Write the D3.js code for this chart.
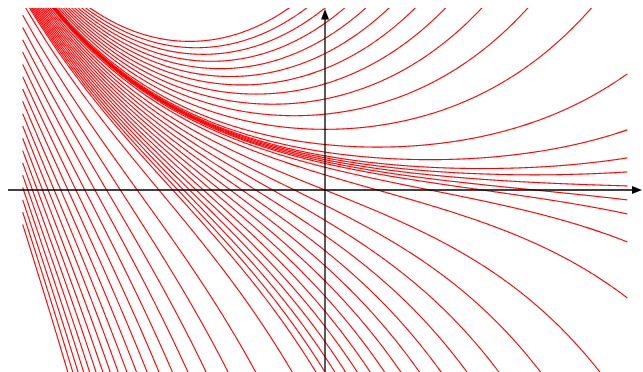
<!DOCTYPE html>
<html>
<head>
<meta charset="utf-8">
<script src="https://cdn.jsdelivr.net/npm/d3@7"></script>
<style>
  html, body { margin: 0; padding: 0; background: #ffffff; }
  svg { display: block; }
</style>
</head>
<body>
<svg id="chart" width="643" height="372"></svg>
<script>
// Solution curves of y' = y - e^{-x}:  y = e^{-x}/2 + C e^{x}
const xDomain = [-2, 2];
const yDomain = [-3, 3];
// constants C
const cUpper = [0.25, 0.5, 0.75, 1, 1.25, 1.5, 1.75, 2, 2.25, 2.5, 2.75, 3];
const cBand = [0, 0.03125, -0.03125, 0.0625, -0.0625, 0.125, -0.125];
const cLower = [-0.25, -0.5, -0.75, -1, -1.25, -1.5, -1.75, -2, -2.25, -2.5, -2.75, -3, -3.25, -3.5, -3.75];
const cSteep = [-4.5, -6, -7.5, -9, -10.5, -12, -13.5, -15, -16.5, -18, -19.5, -21, -22.5, -24, -25.5, -27, -28.5, -30, -31.5];

const svg = d3.select("#chart");
const x = d3.scaleLinear().domain(xDomain).range([22.7, 627.3]);
const y = d3.scaleLinear().domain(yDomain).range([372, 8]);

svg.append("defs").append("clipPath").attr("id", "plotClip")
  .append("rect")
  .attr("x", x(xDomain[0]) - 1).attr("y", y(yDomain[1]))
  .attr("width", x(xDomain[1]) - x(xDomain[0]) + 2)
  .attr("height", y(yDomain[0]) - y(yDomain[1]));

const samples = d3.range(0, 801).map(i => xDomain[0] + (xDomain[1] - xDomain[0]) * i / 800);
const solution = c => samples.map(t => [t, Math.exp(-t) / 2 + c * Math.exp(t)]);

const line = d3.line()
  .defined(d => Math.abs(d[1]) < 30)
  .x(d => x(d[0]))
  .y(d => y(d[1]));

const allC = [].concat(cUpper, cBand, cLower, cSteep);
svg.append("g").attr("clip-path", "url(#plotClip)")
  .selectAll("path").data(allC).join("path")
  .attr("d", c => line(solution(c)))
  .attr("fill", "none")
  .attr("stroke", "#ff0000")
  .attr("stroke-width", 1.1);

// axes with arrow heads
const ax = svg.append("g").attr("stroke", "#000").attr("fill", "#000");
const x0 = x(0), y0 = y(0);
ax.append("line").attr("x1", 8).attr("y1", y0).attr("x2", 634).attr("y2", y0).attr("stroke-width", 1.3);
ax.append("path").attr("d", `M642,${y0} L632,${y0 - 4} L632,${y0 + 4} Z`).attr("stroke", "none");
ax.append("line").attr("x1", x0).attr("y1", 372).attr("x2", x0).attr("y2", 18).attr("stroke-width", 1.3);
ax.append("path").attr("d", `M${x0},9 L${x0 - 4},19.5 L${x0 + 4},19.5 Z`).attr("stroke", "none");
</script>
</body>
</html>
